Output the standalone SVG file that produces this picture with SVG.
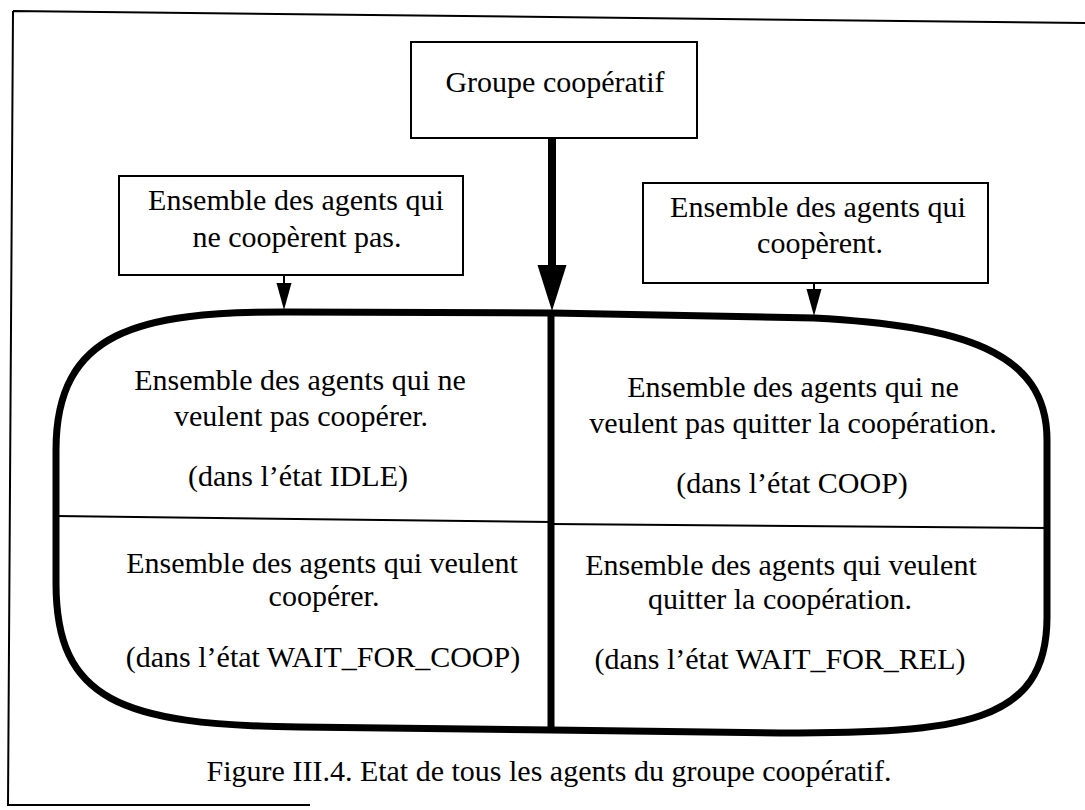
<svg xmlns="http://www.w3.org/2000/svg" width="1085" height="810" viewBox="0 0 1085 810">
<style>
text{font-family:"Liberation Serif","Times New Roman",serif;font-size:30px;fill:#000;text-anchor:middle}
.box{fill:#fff;stroke:#000;stroke-width:2}
.thin{fill:none;stroke:#000;stroke-width:2}
.thick{fill:none;stroke:#000;stroke-width:7}
</style>
<defs>
<marker id="ah" markerUnits="userSpaceOnUse" markerWidth="28" markerHeight="16" refX="4" refY="7.5" orient="auto" viewBox="0 0 28 16">
<path d="M0,0 L27,7.5 L0,15 z" fill="#000"/>
</marker>
<marker id="bigah" markerUnits="userSpaceOnUse" markerWidth="48" markerHeight="30" refX="6" refY="14.5" orient="auto" viewBox="0 0 48 30">
<path d="M0,0 L46,14.5 L0,29 z" fill="#000"/>
</marker>
</defs>
<rect width="1085" height="810" fill="#fff"/>
<g id="frame">
<path class="thin" d="M13,11 L1085,23 M13,11 L8,805 L310,805"/>
</g>
<g id="connectors">
<line x1="552" y1="138" x2="552" y2="271" stroke="#000" stroke-width="8" marker-end="url(#bigah)"/>
<line x1="284" y1="275" x2="284" y2="287" stroke="#000" stroke-width="2" marker-end="url(#ah)"/>
<line x1="814" y1="283" x2="814" y2="293" stroke="#000" stroke-width="2" marker-end="url(#ah)"/>
</g>
<g id="states">
<path class="thick" d="M56,450 C56,330 140,312 285,312 L552,313 L814,318 C960,326 1047,350 1047,440 L1047,617 C1047,725 960,733 780,733 L552,730 L300,727 C120,725 56,700 56,583 Z"/>
<line class="thin" x1="56" y1="516" x2="552" y2="522"/>
<line class="thin" x1="552" y1="524" x2="1047" y2="528"/>
<line x1="551" y1="313" x2="551" y2="730" stroke="#000" stroke-width="7"/>
</g>
<g id="groupe">
<rect class="box" x="411" y="42" width="286" height="96"/>
<text x="555" y="92">Groupe coopératif</text>
</g>
<g id="noncoop">
<rect class="box" x="119" y="176" width="344" height="99"/>
<text x="296" y="210">Ensemble des agents qui</text>
<text x="297" y="247">ne coopèrent pas.</text>
</g>
<g id="coop">
<rect class="box" x="643" y="183" width="345" height="100"/>
<text x="818" y="217">Ensemble des agents qui</text>
<text x="820" y="253">coopèrent.</text>
</g>
<g id="idle">
<text x="300" y="390">Ensemble des agents qui ne</text>
<text x="301" y="426">veulent pas coopérer.</text>
<text x="298" y="486">(dans l’état IDLE)</text>
</g>
<g id="coopstate">
<text x="793" y="397">Ensemble des agents qui ne</text>
<text x="793" y="433">veulent pas quitter la coopération.</text>
<text x="792" y="493">(dans l’état COOP)</text>
</g>
<g id="waitcoop">
<text x="322" y="573">Ensemble des agents qui veulent</text>
<text x="324" y="606">coopérer.</text>
<text x="323" y="667">(dans l’état WAIT_FOR_COOP)</text>
</g>
<g id="waitrel">
<text x="781" y="575">Ensemble des agents qui veulent</text>
<text x="780" y="609">quitter la coopération.</text>
<text x="780" y="669">(dans l’état WAIT_FOR_REL)</text>
</g>
<g id="caption">
<text x="549" y="781">Figure III.4. Etat de tous les agents du groupe coopératif.</text>
</g>
</svg>
